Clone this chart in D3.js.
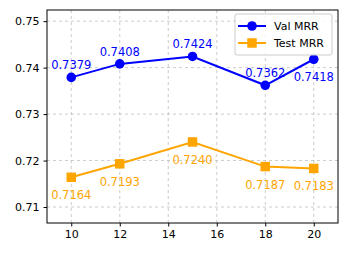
<!DOCTYPE html>
<html>
<head>
<meta charset="UTF-8">
<script src="https://cdn.jsdelivr.net/npm/d3@7"></script>
<style>
    body{margin:0;background:#fff;}
    text{font-family:"DejaVu Sans",sans-serif;}
</style>
</head>
<body>
<script>
    var xs=[10,12,15,18,20];
    var valMRR=[0.7379,0.7408,0.7424,0.7362,0.7418];
    var testMRR=[0.7164,0.7193,0.7240,0.7187,0.7183];
    var xTicks=[10,12,14,16,18,20];
    var yTicks=[0.71,0.72,0.73,0.74,0.75];

    var W=349,H=256;
    var m={left:47,right:11,top:10,bottom:33};
    var svg=d3.select("body").append("svg").attr("width",W).attr("height",H);

    var x=d3.scaleLinear().domain([9,21]).range([m.left,W-m.right]);
    var y=d3.scaleLinear().domain([0.70656,0.7524]).range([H-m.bottom,m.top]);

    // grid
    var g=svg.append("g");
    g.selectAll(".gx").data(xTicks).enter().append("line")
        .attr("x1",function(d){return x(d);}).attr("x2",function(d){return x(d);})
        .attr("y1",m.top).attr("y2",H-m.bottom)
        .style("stroke","#b0b0b0").style("stroke-width",0.8).style("stroke-dasharray","3,3").style("opacity",0.8);
    g.selectAll(".gy").data(yTicks).enter().append("line")
        .attr("y1",function(d){return y(d);}).attr("y2",function(d){return y(d);})
        .attr("x1",m.left).attr("x2",W-m.right)
        .style("stroke","#b0b0b0").style("stroke-width",0.8).style("stroke-dasharray","3,3").style("opacity",0.8);

    // axes
    svg.append("g").attr("transform","translate(0,"+(H-m.bottom)+")")
        .call(d3.axisBottom(x).tickValues(xTicks).tickSize(3.5).tickPadding(4));
    svg.append("g").attr("transform","translate("+m.left+",0)")
        .call(d3.axisLeft(y).tickValues(yTicks).tickFormat(d3.format(".2f")).tickSize(3.5).tickPadding(4));
    svg.selectAll(".domain").remove();
    svg.selectAll(".tick text").style("font-size","11px").style("fill","#000");
    svg.selectAll(".tick line").style("stroke","#000");
    svg.append("rect").attr("x",m.left).attr("y",m.top)
        .attr("width",W-m.left-m.right).attr("height",H-m.top-m.bottom)
        .style("fill","none").style("stroke","#000").style("stroke-width",1);

    var line=d3.line().x(function(d){return x(d[0]);}).y(function(d){return y(d[1]);});

    function series(vals,color,shape,size,dy){
        var pts=xs.map(function(d,i){return [d,vals[i]];});
        svg.append("path").datum(pts).attr("d",line)
            .style("fill","none").style("stroke",color).style("stroke-width",2);
        var sym=d3.symbol().type(shape).size(size);
        svg.selectAll(null).data(pts).enter().append("path")
            .attr("d",sym)
            .attr("transform",function(d){return "translate("+x(d[0])+","+y(d[1])+")";})
            .style("fill",color);
        svg.selectAll(null).data(pts).enter().append("text")
            .attr("x",function(d){return x(d[0]);})
            .attr("y",function(d,i){
                // last val label sits below its point to clear the legend
                var o=(dy<0&&i===pts.length-1)?22:dy;
                return y(d[1])+o;
            })
            .attr("text-anchor","middle")
            .style("font-size","11.5px").style("fill",color)
            .text(function(d){return d[1].toFixed(4);});
    }
    series(valMRR,"blue",d3.symbolCircle,72,-8);
    series(testMRR,"orange",d3.symbolSquare,90,22);

    // legend
    var lg=svg.append("g").attr("transform","translate(235,14)");
    lg.append("rect").attr("width",97).attr("height",41).attr("rx",2)
        .style("fill","#fff").style("fill-opacity",0.8).style("stroke","#ccc");
    var items=[["Val MRR","blue",d3.symbolCircle,72],["Test MRR","orange",d3.symbolSquare,90]];
    items.forEach(function(it,i){
        var yy=12+i*17;
        lg.append("line").attr("x1",3).attr("x2",31).attr("y1",yy).attr("y2",yy)
            .style("stroke",it[1]).style("stroke-width",2);
        lg.append("path").attr("d",d3.symbol().type(it[2]).size(it[3]))
            .attr("transform","translate(17,"+yy+")").style("fill",it[1]);
        lg.append("text").attr("x",39).attr("y",yy+4).style("font-size","11px").text(it[0]);
    });
</script>
</body>
</html>
